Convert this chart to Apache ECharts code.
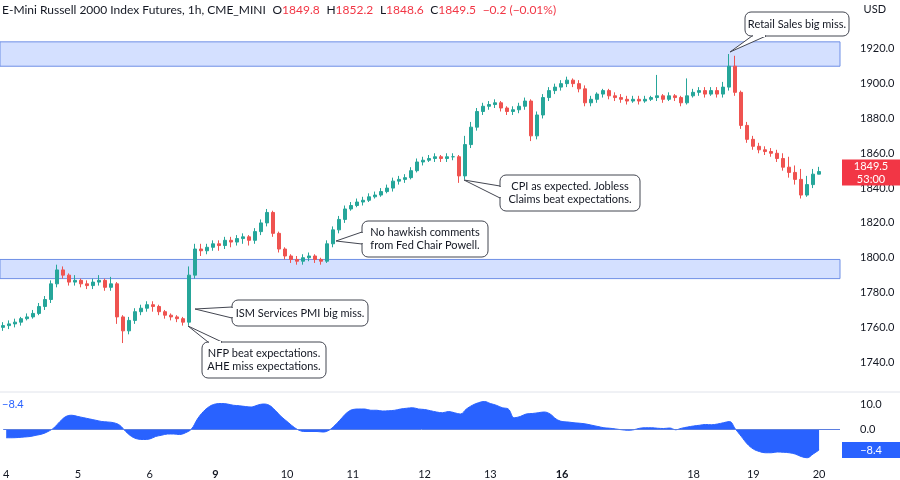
<!DOCTYPE html>
<html><head><meta charset="utf-8">
<script src="https://cdn.jsdelivr.net/npm/echarts@6/dist/echarts.min.js"></script>
<style>html,body{margin:0;padding:0;background:#fff}#c{width:900px;height:480px}</style>
</head><body><div id="c"></div>
<script>
const dayLabels = ['4','5','6','9','10','11','12','13','16','18','19','20'];
const dayIdx = [0,12,24,35,47,58,70,81,93,115,125,136];
const boldDays = ['9','16'];
const firstOpen = 1760;
const closes = [
1761,1762,1763,1765,1766,1768,1772,1776,1785,1793,
1790,1786,1787,1785,1784,1786,1787,1783,1785,1766,
1758,1764,1769,1771,1773,1772,1769,1767,1766,1765,
1763,1790,1805,1804,1806,1808,1807,1810,1809,1811,
1812,1810,1815,1820,1826,1814,1805,1801,1799,1798,
1800,1801,1799,1798,1808,1816,1822,1828,1830,1832,
1833,1835,1836,1838,1840,1844,1845,1846,1850,1855,
1856,1857,1858,1857,1858,1858,1847,1865,1875,1884,
1887,1888,1889,1886,1884,1885,1887,1890,1870,1882,
1892,1896,1898,1900,1902,1900,1897,1889,1891,1894,
1896,1893,1892,1891,1890,1891,1890,1891,1892,1893,
1891,1893,1892,1889,1893,1895,1896,1894,1896,1894,
1898,1910,1895,1876,1868,1864,1862,1861,1860,1857,
1852,1849,1845,1836,1842,1848,1849.5];
const highs = [
1763,1764,1765,1766,1768,1770,1774,1778,1787,1796,
1795,1791,1790,1788,1787,1788,1790,1788,1789,1786,
1767,1766,1771,1773,1775,1775,1773,1770,1768,1767,
1766,1795,1808,1808,1808,1810,1810,1812,1812,1813,
1814,1813,1817,1822,1828,1827,1815,1806,1802,1801,
1802,1803,1802,1800,1810,1818,1824,1830,1832,1834,
1835,1837,1838,1840,1842,1846,1847,1848,1852,1857,
1858,1859,1860,1859,1860,1860,1859,1870,1878,1886,
1889,1890,1891,1890,1887,1887,1889,1892,1891,1884,
1894,1898,1900,1902,1904,1903,1902,1899,1893,1895,
1897,1897,1895,1894,1893,1893,1893,1893,1893,1905,
1894,1895,1894,1893,1903,1897,1898,1898,1898,1898,
1901,1917,1916,1896,1878,1870,1866,1864,1863,1862,
1860,1858,1853,1851,1847,1851,1852.2];
const lows = [
1758,1759,1760,1761,1764,1765,1767,1770,1774,1783,
1788,1784,1784,1783,1782,1782,1784,1781,1781,1762,
1751,1756,1762,1767,1769,1769,1767,1765,1764,1763,
1761,1761,1788,1801,1802,1804,1804,1805,1806,1807,
1808,1807,1808,1813,1818,1812,1803,1799,1797,1796,
1796,1798,1797,1796,1797,1806,1814,1820,1827,1829,
1830,1832,1834,1835,1837,1838,1842,1843,1845,1849,
1853,1855,1855,1855,1855,1856,1843,1845,1863,1873,
1882,1885,1886,1884,1882,1882,1883,1885,1867,1868,
1880,1890,1894,1896,1898,1898,1895,1887,1887,1889,
1892,1891,1890,1889,1888,1889,1888,1889,1890,1890,
1889,1890,1890,1887,1888,1892,1893,1892,1893,1892,
1892,1896,1893,1874,1866,1862,1860,1859,1858,1855,
1850,1846,1842,1834,1835,1840,1848.6];
const osc = [
-3.5,-3.5,-3.4,-3.2,-3,-2.5,-2,-1,0.5,3,
5,5.5,5,4.5,4,3.5,3,2.8,2.5,1.5,
-1,-3,-4,-4.2,-4,-3,-2.5,-2,-2,-2.2,
-1.5,0,4,7,9,10,10.2,10,9.5,9.3,
9,8.8,9.5,10,9.5,7.5,5,3,1,-0.5,
-1,-1,-1,-1.2,-0.5,1.5,4,6.5,7.8,8,
8,7.5,7.5,7.2,7.3,7.5,8,8.3,8.5,8,
7.8,7.3,6.8,6.5,7,6.5,6,8,9.5,10.5,
11,10.2,9.5,8.5,8,4.5,5,6,6.2,6.5,
6.8,6,4,3,2.8,2.5,2.3,2,1.5,1,
0.5,0.3,0,-0.3,-0.5,-0.3,0.3,0.5,0.5,0.3,
0.2,0.4,-0.3,0.3,0.8,1.2,1.5,1.8,1.7,2,
2.5,3,0,-3,-6,-8,-9,-9.5,-9.5,-9.2,
-9.3,-9.5,-10,-11,-11.5,-10,-8.4];
const zones = [[1910,1924],[1788,1799]];
const lastPrice = 1849.5, lastOsc = -8.4;
const notes = [
  {text:'Retail Sales big miss.', box:[745,12,104,24], tail:[[752,36],[766,36],[730,52]]},
  {text:'CPI as expected. Jobless\nClaims beat expectations.', box:[500,175,140,36], tail:[[500,186],[500,198],[464,180]]},
  {text:'No hawkish comments\nfrom Fed Chair Powell.', box:[362,221,126,36], tail:[[362,232],[362,244],[336,241]]},
  {text:'ISM Services PMI big miss.', box:[232,300,136,26], tail:[[232,307],[232,318],[195,309]]},
  {text:'NFP beat expectations.\nAHE miss expectations.', box:[202,342,124,36], tail:[[208,342],[222,342],[188,326]]}
];

const N = 140;
const cats = [];
for (let i=0;i<N;i++){ const k=dayIdx.indexOf(i); cats.push(k>=0?dayLabels[k]:''); }
const candles = closes.map((c,i)=>[i===0?firstOpen:closes[i-1], c, lows[i], highs[i]]);

const graphics = [];
graphics.push({type:'text', left:2, top:4, style:{
  text:'{a|E-Mini Russell 2000 Index Futures, 1h, CME_MINI}  {a|O}{r|1849.8}  {a|H}{r|1852.2}  {a|L}{r|1848.6}  {a|C}{r|1849.5}  {r|−0.2 (−0.01%)}',
  rich:{a:{fill:'#131722',fontSize:12,fontFamily:'Lato'},r:{fill:'#f23645',fontSize:12,fontFamily:'Lato'}}}});
graphics.push({type:'text', right:14, top:4, style:{text:'USD', fill:'#131722', fontSize:11, fontFamily:'Lato'}});
graphics.push({type:'text', left:2, top:399, style:{text:'−8.4', fill:'#2962ff', fontSize:11, fontFamily:'Lato'}});
graphics.push({type:'line', shape:{x1:0,y1:392,x2:900,y2:392}, style:{stroke:'#e0e3eb',lineWidth:1}});
notes.forEach(n=>{
  const [x,y,w,h]=n.box;
  graphics.push({type:'rect', z:100, shape:{x,y,width:w,height:h,r:6}, style:{fill:'#fff',stroke:'#434651',lineWidth:1}});
  graphics.push({type:'polygon', z:101, shape:{points:n.tail}, style:{fill:'#fff',stroke:'#434651',lineWidth:1}});
  const vert = n.tail[0][0]===n.tail[1][0];
  graphics.push({type:'line', z:102, shape:{x1:n.tail[0][0]+(vert?0:1),y1:n.tail[0][1]+(vert?1:0),x2:n.tail[1][0]-(vert?0:1),y2:n.tail[1][1]-(vert?1:0)}, style:{stroke:'#fff',lineWidth:2}});
  graphics.push({type:'text', z:103, x:x+w/2, y:y+h/2, style:{text:n.text, fill:'#131722', fontSize:11, fontFamily:'Lato', align:'center', verticalAlign:'middle', lineHeight:13}});
});

const chart = echarts.init(document.getElementById('c'));
chart.setOption({
  animation:false,
  backgroundColor:'#fff',
  grid:[{left:0,right:60,top:14,height:383},{left:0,right:60,top:394,height:65}],
  xAxis:[
    {type:'category',gridIndex:0,data:cats,boundaryGap:true,axisLine:{show:false},axisTick:{show:false},axisLabel:{show:false},splitLine:{show:false}},
    {type:'category',gridIndex:1,data:cats,boundaryGap:true,axisLine:{show:false},axisTick:{show:false},
     axisLabel:{interval:0,color:'#131722',fontSize:11,fontFamily:'Lato',margin:10,
       formatter:v=>v===''?'':(boldDays.includes(v)?'{b|'+v+'}':v),rich:{b:{fontWeight:'bold',fontSize:11,color:'#131722'}}},splitLine:{show:false}}
  ],
  yAxis:[
    {type:'value',gridIndex:0,position:'right',min:1720,max:1940,interval:20,axisLine:{show:false},axisTick:{show:false},splitLine:{show:false},
     axisLabel:{showMinLabel:false,showMaxLabel:false,color:'#131722',fontSize:11,fontFamily:'Lato',margin:20,formatter:v=>v.toFixed(1)}},
    {type:'value',gridIndex:1,position:'right',min:-12,max:14,interval:2,axisLine:{show:false},axisTick:{show:false},splitLine:{show:false},
     axisLabel:{color:'#131722',fontSize:11,fontFamily:'Lato',margin:20,formatter:v=>(v===10||v===0)?v.toFixed(1):''}}
  ],
  series:[
    {type:'candlestick',xAxisIndex:0,yAxisIndex:0,data:candles,barMaxWidth:4,
     itemStyle:{color:'#26a69a',color0:'#ef5350',borderColor:'#26a69a',borderColor0:'#ef5350',borderWidth:1},
     markArea:{silent:true,itemStyle:{color:'rgba(41,98,255,0.2)',borderColor:'#6f8fe6',borderWidth:1},
       data:zones.map(z=>[{yAxis:z[0],x:0},{yAxis:z[1],x:840}])}},
    {type:'line',xAxisIndex:1,yAxisIndex:1,data:osc,smooth:0.4,symbol:'none',lineStyle:{color:'#2962ff',width:1},
     areaStyle:{color:'#2962ff',opacity:1},
     markLine:{silent:true,symbol:'none',label:{show:false},
       data:[{yAxis:0,lineStyle:{color:'#5b7ee0',width:1,type:'solid'}}]}}
  ],
  graphic:graphics
});
const py = chart.convertToPixel({yAxisIndex:0}, lastPrice);
const oy = chart.convertToPixel({yAxisIndex:1}, lastOsc);
chart.setOption({graphic:graphics.concat([
  {type:'rect', z:110, shape:{x:842,y:py-12,width:58,height:26}, style:{fill:'#f23645'}},
  {type:'text', z:111, x:871, y:py+1, style:{text:lastPrice.toFixed(1)+'\n53:00', fill:'#fff', fontSize:11, fontFamily:'Lato', align:'center', verticalAlign:'middle', lineHeight:13}},
  {type:'rect', z:110, shape:{x:842,y:oy-8,width:58,height:16}, style:{fill:'#2962ff'}},
  {type:'text', z:111, x:871, y:oy, style:{text:'−'+Math.abs(lastOsc).toFixed(1), fill:'#fff', fontSize:11, fontFamily:'Lato', align:'center', verticalAlign:'middle'}}
])});
</script></body></html>
